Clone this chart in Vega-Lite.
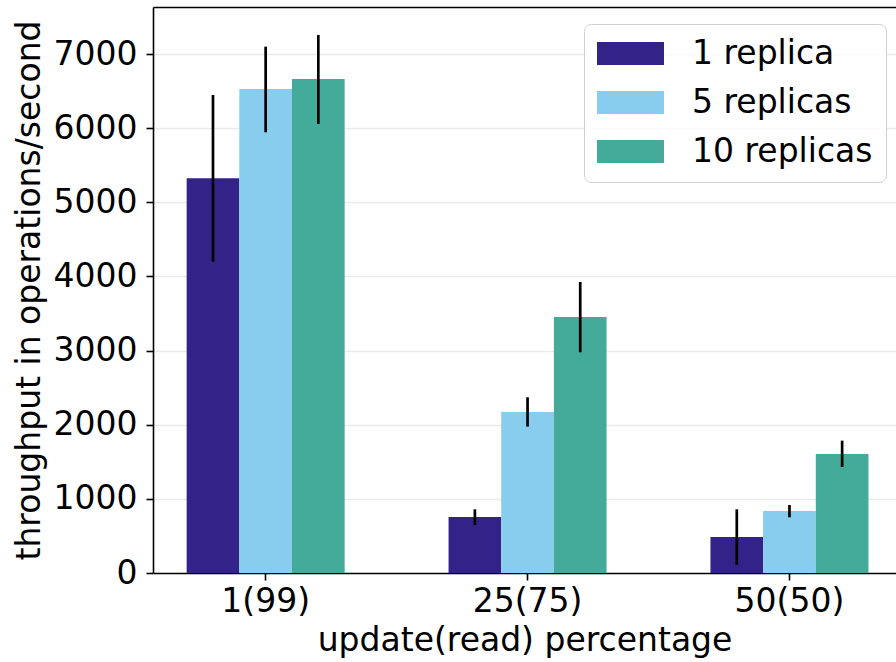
{
  "$schema": "https://vega.github.io/schema/vega-lite/v6.json",
  "width": 743,
  "height": 566,
  "autosize": {"type": "none"},
  "padding": {"left": 153, "top": 7, "right": 0, "bottom": 89},
  "background": "white",
  "config": {
    "view": {"stroke": null},
    "font": "DejaVu Sans",
    "axis": {
      "labelFont": "DejaVu Sans",
      "titleFont": "DejaVu Sans",
      "labelColor": "black",
      "titleColor": "black",
      "labelFontSize": 33,
      "titleFontSize": 33,
      "titleFontWeight": "normal",
      "domainColor": "black",
      "domainWidth": 1.6,
      "tickColor": "black",
      "tickWidth": 1.6,
      "tickSize": 7
    },
    "legend": {
      "labelFont": "DejaVu Sans",
      "labelFontSize": 33,
      "labelColor": "black"
    }
  },
  "data": {
    "values": [
      {"workload": "1(99)", "series": "1 replica", "value": 5324, "lo": 4199, "hi": 6447},
      {"workload": "1(99)", "series": "5 replicas", "value": 6528, "lo": 5944, "hi": 7099},
      {"workload": "1(99)", "series": "10 replicas", "value": 6663, "lo": 6056, "hi": 7257},
      {"workload": "25(75)", "series": "1 replica", "value": 755, "lo": 647, "hi": 859},
      {"workload": "25(75)", "series": "5 replicas", "value": 2172, "lo": 1974, "hi": 2370},
      {"workload": "25(75)", "series": "10 replicas", "value": 3453, "lo": 2977, "hi": 3925},
      {"workload": "50(50)", "series": "1 replica", "value": 486, "lo": 112, "hi": 859},
      {"workload": "50(50)", "series": "5 replicas", "value": 836, "lo": 751, "hi": 917},
      {"workload": "50(50)", "series": "10 replicas", "value": 1605, "lo": 1430, "hi": 1785}
    ]
  },
  "layer": [
    {
      "mark": {"type": "bar"},
      "encoding": {
        "x": {
          "field": "workload", "type": "nominal", "sort": ["1(99)", "25(75)", "50(50)"],
          "scale": {"paddingInner": 0.3967, "paddingOuter": 0.1168, "align": 0.55},
          "axis": {"labelAngle": 0, "labelPadding": 5, "title": "update(read) percentage", "titlePadding": 6, "grid": false}
        },
        "xOffset": {"field": "series", "type": "nominal", "sort": ["1 replica", "5 replicas", "10 replicas"], "scale": {"paddingInner": 0, "paddingOuter": 0}},
        "y": {
          "field": "value", "type": "quantitative",
          "scale": {"domain": [0, 7634], "nice": false},
          "axis": {"values": [0, 1000, 2000, 3000, 4000, 5000, 6000, 7000], "format": "d", "grid": true, "gridColor": "#ebebeb", "gridWidth": 1.5, "labelPadding": 9, "title": "throughput in operations/second", "titlePadding": 7}
        },
        "color": {
          "field": "series", "type": "nominal",
          "sort": ["1 replica", "5 replicas", "10 replicas"],
          "scale": {"domain": ["1 replica", "5 replicas", "10 replicas"], "range": ["#332288", "#88CCEE", "#44AA99"]},
          "legend": {
            "title": null,
            "orient": "none",
            "legendX": 431,
            "legendY": 17,
            "symbolType": "M-2.03,-0.697L2.03,-0.697L2.03,0.697L-2.03,0.697Z",
            "symbolSize": 1089,
            "symbolStrokeWidth": 0,
            "symbolOpacity": 1,
            "symbolOffset": 17,
            "labelOffset": 45,
            "labelLimit": 0,
            "rowPadding": 15,
            "padding": 13,
            "fillColor": "rgba(255,255,255,0.8)",
            "strokeColor": "#d0d0d0",
            "cornerRadius": 7
          }
        }
      }
    },
    {
      "mark": {"type": "rule", "color": "black", "strokeWidth": 2.7},
      "encoding": {
        "x": {
          "field": "workload", "type": "nominal", "sort": ["1(99)", "25(75)", "50(50)"],
          "axis": {"orient": "top", "labels": false, "ticks": false, "title": null, "domain": true, "grid": false}
        },
        "xOffset": {"field": "series", "type": "nominal", "sort": ["1 replica", "5 replicas", "10 replicas"]},
        "y": {"field": "lo", "type": "quantitative"},
        "y2": {"field": "hi"}
      }
    }
  ],
  "resolve": {"axis": {"x": "independent"}}
}
